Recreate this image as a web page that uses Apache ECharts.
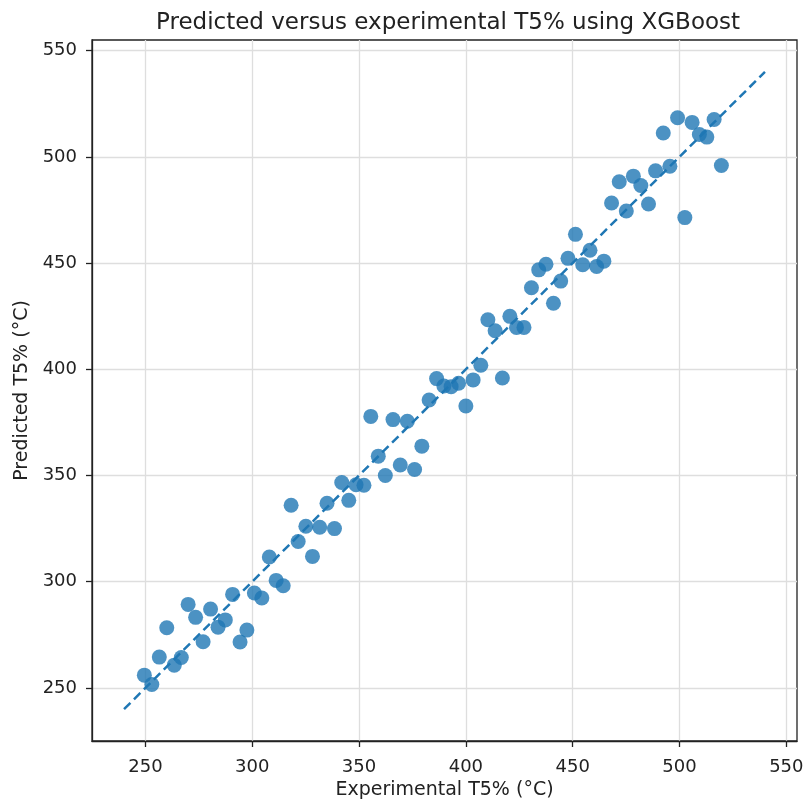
<!DOCTYPE html>
<html>
<head>
<meta charset="utf-8">
<script src="https://cdn.jsdelivr.net/npm/echarts@6/dist/echarts.min.js"></script>
<style>
  html, body { margin: 0; padding: 0; background: #fff; }
  #chart { width: 804px; height: 800px; }
</style>
</head>
<body>
<div id="chart"></div>
<script>
var experimental = [
  249.5, 253.0, 256.5, 260.0, 263.5, 266.8, 270.0, 273.5, 277.0, 280.5,
  284.0, 287.4, 290.8, 294.3, 297.5, 301.0, 304.5, 308.0, 311.2, 314.5,
  318.2, 321.5, 325.1, 328.2, 331.6, 335.0, 338.5, 341.9, 345.2, 348.6,
  352.3, 355.5, 359.0, 362.3, 365.9, 369.3, 372.6, 376.0, 379.4, 382.8,
  386.3, 389.7, 393.1, 396.6, 400.0, 403.4, 407.0, 410.3, 413.7, 417.1,
  420.6, 423.7, 427.2, 430.7, 434.1, 437.5, 441.0, 444.4, 447.8, 451.3,
  454.7, 458.1, 461.2, 464.6, 468.2, 471.8, 475.1, 478.4, 481.9, 485.5,
  488.8, 492.4, 495.5, 499.1, 502.5, 505.9, 509.3, 512.8, 516.2, 519.6
];
var predicted = [
  256.0, 251.6, 264.5, 278.3, 260.7, 264.3, 289.3, 283.2, 271.7, 287.1,
  278.6, 282.0, 294.0, 271.6, 277.2, 294.7, 292.3, 311.6, 300.6, 298.1,
  336.0, 318.9, 326.1, 311.9, 325.6, 336.9, 325.0, 346.7, 338.3, 345.6,
  345.4, 377.8, 359.1, 350.0, 376.3, 354.9, 375.5, 352.8, 363.8, 385.5,
  395.6, 392.1, 391.8, 393.4, 382.7, 395.0, 401.9, 423.3, 418.1, 395.9,
  424.9, 419.7, 419.7, 438.4, 446.8, 449.4, 431.1, 441.5, 452.2, 463.5,
  449.2, 456.0, 448.4, 450.9, 478.3, 488.3, 474.5, 490.9, 486.5, 477.8,
  493.4, 511.2, 495.6, 518.4, 471.4, 516.2, 510.5, 509.3, 517.6, 495.9
];
var idealLine = [240, 540];
var tickValues = [250, 300, 350, 400, 450, 500, 550];

var points = experimental.map(function (x, i) { return [x, predicted[i]]; });
var diag = idealLine.map(function (v) { return [v, v]; });

var font = 'DejaVu Sans';
var chart = echarts.init(document.getElementById('chart'), null, { renderer: 'canvas' });

// matplotlib-like axis: ticks outside, light grid, labels at 50s
function axisCommon(name, gap, labelMargin) {
  return {
    type: 'value',
    min: 225,
    max: 555,
    name: name,
    nameLocation: 'middle',
    nameGap: gap,
    nameTextStyle: { fontFamily: font, fontSize: 19, color: '#222' },
    axisLine: { show: true, onZero: false, lineStyle: { color: '#222', width: 1.3 } },
    axisTick: { show: true, length: 6, inside: false, customValues: tickValues, lineStyle: { color: '#222', width: 1.3 } },
    axisLabel: { customValues: tickValues, fontFamily: font, fontSize: 18, color: '#222', margin: labelMargin },
    splitLine: { show: true, lineStyle: { color: '#dedede', width: 1.3 } }
  };
}

chart.setOption({
  animation: false,
  title: {
    text: 'Predicted versus experimental T5% using XGBoost',
    left: 443,
    textAlign: 'center',
    top: 7,
    textStyle: { fontFamily: font, fontSize: 23, fontWeight: 'normal', color: '#222' }
  },
  grid: {
    left: 92, right: 7, top: 40, bottom: 59,
    outerBoundsMode: 'none',
    containLabel: false,
    show: true, borderColor: '#222', borderWidth: 1.3, backgroundColor: '#fff'
  },
  xAxis: axisCommon('Experimental T5% (°C)', 39, 17),
  yAxis: axisCommon('Predicted T5% (°C)', 60, 15),
  series: [
    {
      type: 'scatter',
      data: points,
      symbolSize: 15,
      itemStyle: { color: '#1f77b4', opacity: 0.8 },
      z: 2
    },
    {
      type: 'line',
      data: diag,
      symbol: 'none',
      lineStyle: { color: '#1f77b4', width: 2.5, type: [9, 5] },
      z: 3
    }
  ]
});
</script>
</body>
</html>
